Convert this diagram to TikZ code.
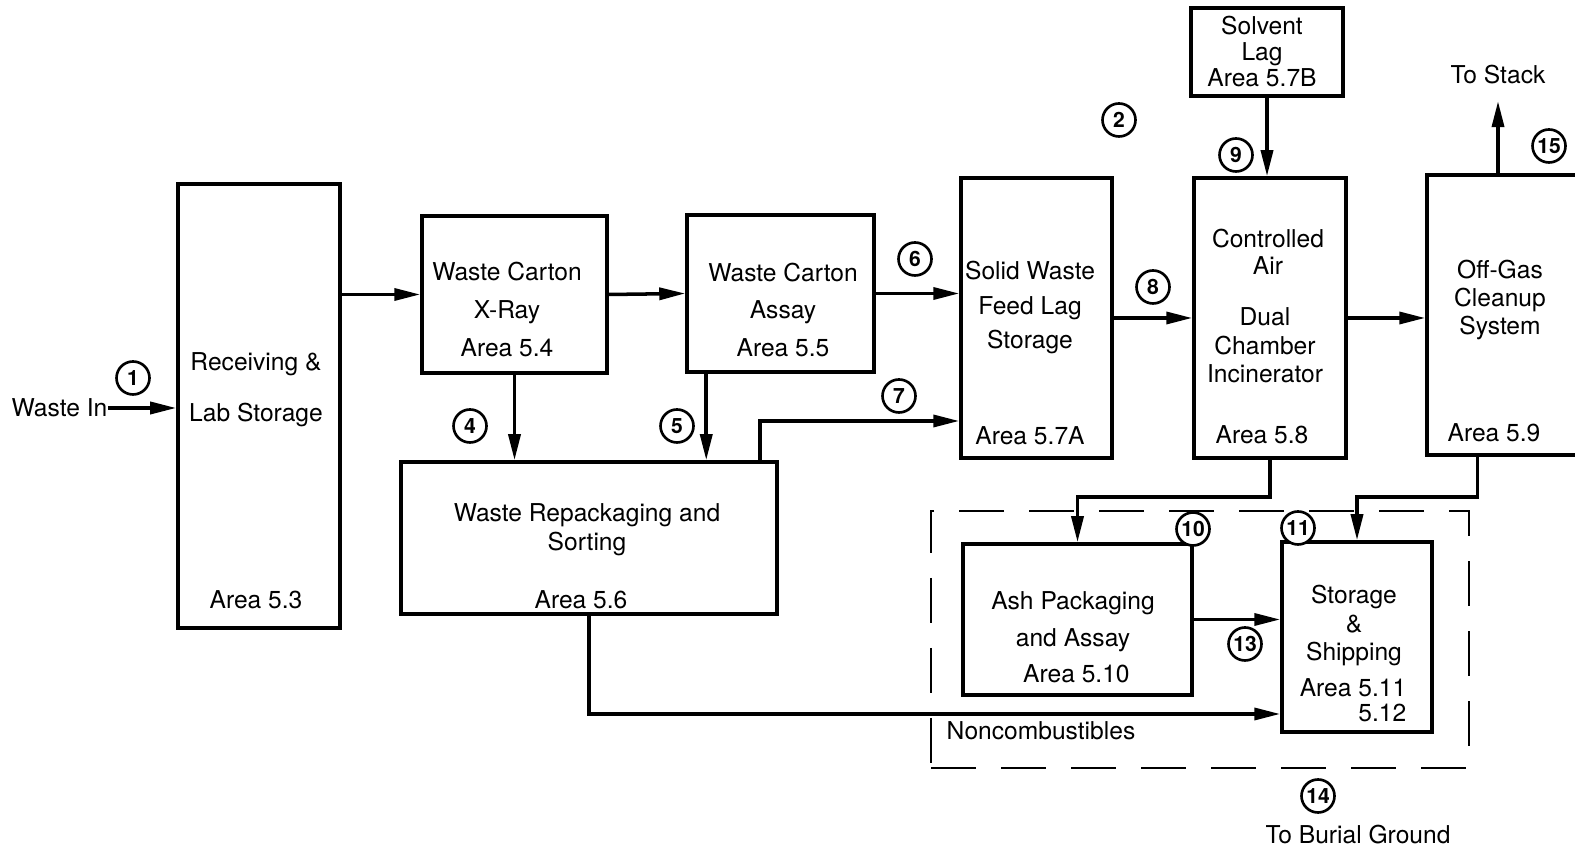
\documentclass[tikz,border=0pt]{standalone}
\usepackage{fontspec}
\setmainfont{TeX Gyre Heros}
\usetikzlibrary{arrows.meta,positioning}

\begin{document}
\begin{tikzpicture}[x=0.1mm, y=-0.1mm,
	box/.style={draw, line width=1pt, inner sep=0pt},
	txt/.style={align=center, inner sep=0pt, font=\fontsize{7}{8.3}\selectfont},
	num/.style={draw, circle, fill=white, line width=0.75pt, minimum size=3.3mm, inner sep=0pt, font=\fontsize{6}{6}\selectfont\bfseries},
	flow/.style={-{Triangle[length=2.6mm,width=1.2mm]}, line width=1pt}]
	\useasboundingbox (0,0) rectangle (1575,852);
	\clip (0,0) rectangle (1575,852);
	% boxes
	\node[box, minimum width=16.2mm, minimum height=44.4mm] (rec) at (259,406) {};
	\node[box, minimum width=18.5mm, minimum height=15.7mm] (xray) at (514.5,294.5) {};
	\node[box, minimum width=18.7mm, minimum height=15.7mm] (assay) at (780.5,293.5) {};
	\node[box, minimum width=37.6mm, minimum height=15.2mm] (repack) at (589,538) {};
	\node[box, minimum width=15.1mm, minimum height=28mm] (lag) at (1036.5,318) {};
	\node[box, minimum width=15.2mm, minimum height=8.8mm] (solvent) at (1267,52) {};
	\node[box, minimum width=15.2mm, minimum height=28mm] (incin) at (1270,318) {};
	\node[box, minimum width=16.3mm, minimum height=28mm] (offgas) at (1508.5,315) {};
	\node[box, minimum width=22.9mm, minimum height=15.1mm] (ash) at (1077.5,619.5) {};
	\node[box, minimum width=15mm, minimum height=19mm] (store) at (1357,637) {};
	\node[draw, dashed, dash pattern=on 4.5mm off 2.5mm, line width=0.8pt, minimum width=53.8mm, minimum height=25.7mm] (zone) at (1200,639.5) {};
	% texts
	\node[txt, font=\fontsize{7}{14.5}\selectfont] (rect) at (256,390) {Receiving \&\\Lab Storage};
	\node[txt] (reca) at (256,600) {Area 5.3};
	\node[txt, font=\fontsize{7}{10.7}\selectfont] (xrayt) at (507,309.5) {Waste Carton\\X-Ray\\Area 5.4};
	\node[txt, font=\fontsize{7}{10.7}\selectfont] (assayt) at (783,310) {Waste Carton\\Assay\\Area 5.5};
	\node[txt] (repackt) at (587,529.5) {Waste Repackaging and\\Sorting};
	\node[txt] (repacka) at (581,600) {Area 5.6};
	\node[txt, font=\fontsize{7}{9.8}\selectfont] (lagt) at (1030,307.5) {Solid Waste\\Feed Lag\\Storage};
	\node[txt] (laga) at (1030,436) {Area 5.7A};
	\node[txt, font=\fontsize{7}{7.4}\selectfont] (solventt) at (1262,52) {Solvent\\Lag\\Area 5.7B};
	\node[txt, font=\fontsize{7}{7.7}\selectfont] (incint) at (1268,251.5) {Controlled\\Air};
	\node[txt, font=\fontsize{7}{8.1}\selectfont] (incinu) at (1265,345.5) {Dual\\Chamber\\Incinerator};
	\node[txt] (incina) at (1262,435) {Area 5.8};
	\node[txt, font=\fontsize{7}{8.1}\selectfont] (offgast) at (1500,300) {Off-Gas\\Cleanup\\System};
	\node[txt] (offgasa) at (1494,433) {Area 5.9};
	\node[txt, font=\fontsize{7}{10.4}\selectfont] (asht) at (1073,637.5) {Ash Packaging\\and Assay\\\ Area 5.10};
	\node[txt, font=\fontsize{7}{8.1}\selectfont] (storet) at (1354,625.5) {Storage\\\&\\Shipping};
	\node[txt, align=right, font=\fontsize{7}{7.1}\selectfont] (storea) at (1353,700.5) {Area 5.11\\5.12};
	\node[txt, anchor=east] (wastein) at (108,408) {Waste In};
	\node[txt] (stack) at (1498,75) {To Stack};
	\node[txt] (noncomb) at (1041,731) {Noncombustibles};
	\node[txt] (burial) at (1358,835) {To Burial Ground};
	% flows
	\draw[flow] (wastein.east) -- (rec.west |- wastein.east);
	\draw[flow] (rec.east |- xray.west) -- (xray.west);
	\draw[flow] (xray.east) -- (assay.west);
	\draw[flow] (assay.east) -- (assay.east -| lag.west);
	\draw[flow] (xray.south) -- (xray.south |- repack.north);
	\draw[flow] ([xshift=2.1mm]assay.south west) -- ([xshift=2.1mm]assay.south west |- repack.north);
	\draw[flow] ([xshift=-1.9mm]repack.north east) |- ([yshift=-10.3mm]lag.west);
	\draw[flow] (lag.east) -- (incin.west);
	\draw[flow] (solvent.south) -- (solvent.south |- incin.north);
	\draw[flow] (incin.east) -- (incin.east -| offgas.west);
	\draw[flow, shorten >=1.6mm] (stack.south |- offgas.north) -- (stack.south);
	\draw[flow] (incin.south) -- ++(0,37) -| (ash.north);
	\draw[flow] ([xshift=5.2mm]offgas.south west) -- ++(0,40) -| (store.north);
	\draw[flow] (ash.east) -- (ash.east -| store.west);
	\draw[flow] (repack.south) |- ([yshift=-7.7mm]store.west);
	% stream numbers
	\node[num] (n1) at (133,378) {1};
	\node[num] (n2) at (1119,120) {2};
	\node[num] (n4) at (470,426) {4};
	\node[num] (n5) at (677,426) {5};
	\node[num] (n6) at (915,259) {6};
	\node[num] (n7) at (899,396) {7};
	\node[num] (n8) at (1153,287) {8};
	\node[num] (n9) at (1236,155) {9};
	\node[num] (n10) at (1193,529) {10};
	\node[num] (n11) at (1298,528) {11};
	\node[num] (n13) at (1245,644) {13};
	\node[num] (n14) at (1318,796) {14};
	\node[num] (n15) at (1549,146) {15};
\end{tikzpicture}
\end{document}
